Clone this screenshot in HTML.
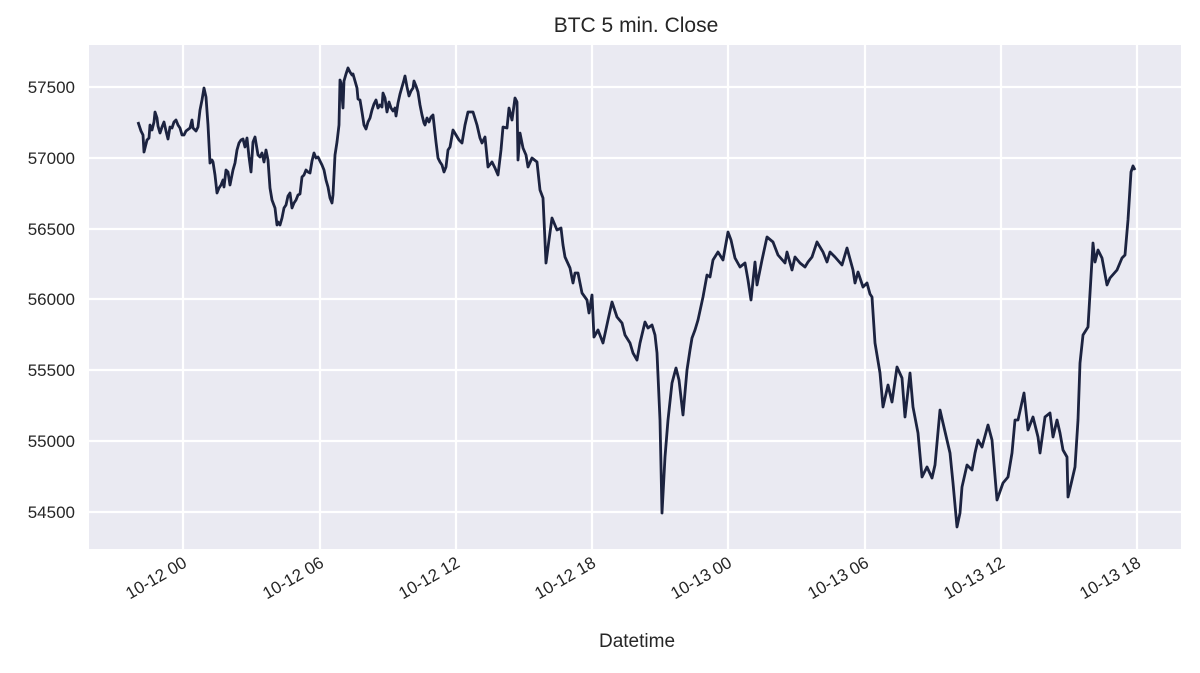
<!DOCTYPE html>
<html><head><meta charset="utf-8"><style>
html,body{margin:0;padding:0;background:#fff;}
svg text{font-family:"Liberation Sans","DejaVu Sans",sans-serif;fill:#262626;}
</style></head><body>
<svg width="1200" height="668" viewBox="0 0 1200 668" xmlns="http://www.w3.org/2000/svg">
<rect x="89" y="45" width="1092" height="504" fill="#eaeaf2"/>
<g stroke="#fff" stroke-width="2.2">
<line x1="183" y1="45" x2="183" y2="549"/><line x1="320" y1="45" x2="320" y2="549"/>
<line x1="456" y1="45" x2="456" y2="549"/><line x1="592" y1="45" x2="592" y2="549"/>
<line x1="728" y1="45" x2="728" y2="549"/><line x1="865" y1="45" x2="865" y2="549"/>
<line x1="1001" y1="45" x2="1001" y2="549"/><line x1="1137" y1="45" x2="1137" y2="549"/>
<line x1="89" y1="87" x2="1181" y2="87"/><line x1="89" y1="158" x2="1181" y2="158"/>
<line x1="89" y1="229" x2="1181" y2="229"/><line x1="89" y1="299" x2="1181" y2="299"/>
<line x1="89" y1="370" x2="1181" y2="370"/><line x1="89" y1="441" x2="1181" y2="441"/>
<line x1="89" y1="512" x2="1181" y2="512"/>
</g>
<polyline fill="none" stroke="#1c2340" stroke-width="2.8" stroke-linejoin="round" points="138,122 141,131 143,135 144,152 147,140 149,138 150,125 152,130 154,122 155,112 157,118 158,126 160,133 162,127 164,122 166,131 168,139 170,127 172,128 174,122 176,120 178,125 180,128 182,135 184,135 186,131 190,128 192,120 193,128 196,131 198,127 200,110 202,100 204,88 206,97 208,125 210,163 212,160 213,162 215,175 217,193 219,188 221,185 223,180 224,187 226,170 228,172 230,185 231,180 233,170 235,163 237,150 239,143 241,140 243,139 245,147 247,138 249,157 251,172 253,142 255,137 258,155 260,157 262,153 264,162 266,150 268,160 270,188 272,200 275,208 277,225 278,222 280,225 282,218 284,208 286,205 288,196 290,193 292,208 294,203 296,200 298,195 300,194 302,177 304,175 306,170 308,172 310,173 312,161 314,153 316,158 318,157 320,161 322,165 324,170 326,180 328,187 330,198 332,203 333,195 335,155 337,142 339,125 340,80 341,83 343,108 344,81 346,74 348,68 350,72 352,75 353,74 355,81 357,88 358,99 360,100 362,112 364,125 366,129 368,122 370,118 372,110 374,104 376,100 378,108 380,105 382,107 383,93 385,98 387,112 389,102 391,108 393,111 395,108 396,116 398,103 400,94 402,87 404,80 405,76 407,87 409,96 411,91 413,88 414,81 416,86 418,92 420,105 422,115 424,123 425,125 427,118 429,122 431,117 433,115 436,142 438,158 440,162 442,165 444,172 446,167 448,150 450,147 453,130 456,135 459,140 462,143 465,125 468,112 473,112 477,125 480,138 482,143 485,137 488,167 492,162 495,168 498,175 501,150 503,127 507,128 509,108 512,120 515,98 517,102 518,160 520,133 523,148 526,155 528,167 532,158 537,162 540,190 543,198 546,263 549,240 552,218 557,230 561,228 563,245 565,257 570,268 573,283 575,273 578,273 582,293 587,300 589,313 592,295 594,337 598,330 603,343 608,320 612,302 617,317 622,323 625,335 630,343 633,353 637,360 640,343 645,322 648,328 652,325 655,335 657,353 660,420 662,513 665,457 668,420 672,383 676,368 679,380 683,415 687,370 690,350 692,338 695,330 698,320 703,297 707,275 710,277 713,260 718,252 723,260 728,232 731,240 735,258 740,267 745,263 748,280 751,300 755,262 757,285 762,260 767,237 773,242 778,255 785,263 787,252 792,270 795,257 800,263 805,267 808,262 812,257 817,242 823,252 827,262 830,252 835,257 842,265 847,248 853,270 855,283 858,272 863,287 867,283 870,294 872,297 875,343 880,373 883,407 888,385 892,402 897,367 902,378 905,417 910,373 913,407 918,433 922,477 927,467 932,478 935,465 940,410 943,423 950,453 953,483 957,527 960,513 962,487 967,465 972,470 975,453 978,440 982,447 988,425 992,440 997,500 1003,483 1008,477 1012,453 1015,420 1018,420 1024,393 1028,430 1033,417 1038,437 1040,453 1045,417 1050,413 1053,437 1057,420 1060,433 1063,450 1067,457 1068,497 1072,480 1075,467 1078,420 1080,363 1083,335 1088,327 1093,243 1095,262 1098,250 1102,258 1107,285 1110,278 1117,270 1122,258 1125,255 1128,220 1131,172 1133,166 1135,170"/>
<g font-size="17" text-anchor="end">
<text x="75" y="93">57500</text><text x="75" y="164">57000</text>
<text x="75" y="235">56500</text><text x="75" y="305">56000</text>
<text x="75" y="376">55500</text><text x="75" y="447">55000</text>
<text x="75" y="518">54500</text>
</g>
<g font-size="17" text-anchor="end">
<text transform="translate(188,566) rotate(-30)">10-12 00</text>
<text transform="translate(325,566) rotate(-30)">10-12 06</text>
<text transform="translate(461,566) rotate(-30)">10-12 12</text>
<text transform="translate(597,566) rotate(-30)">10-12 18</text>
<text transform="translate(733,566) rotate(-30)">10-13 00</text>
<text transform="translate(870,566) rotate(-30)">10-13 06</text>
<text transform="translate(1006,566) rotate(-30)">10-13 12</text>
<text transform="translate(1142,566) rotate(-30)">10-13 18</text>
</g>
<text x="637" y="647" font-size="19" text-anchor="middle">Datetime</text>
<text x="636" y="32" font-size="21" text-anchor="middle">BTC 5 min. Close</text>
</svg>
</body></html>
